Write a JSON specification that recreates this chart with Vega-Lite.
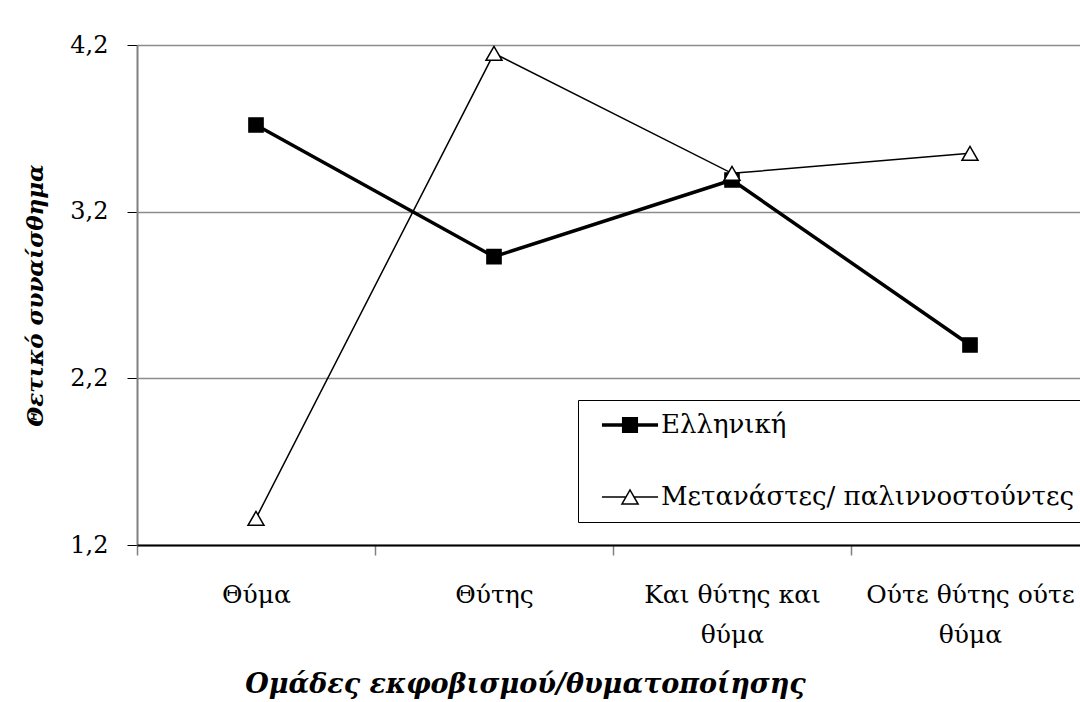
{
  "$schema": "https://vega.github.io/schema/vega-lite/v6.json",
  "width": 943,
  "height": 500,
  "autosize": {"type": "none"},
  "padding": {"left": 137, "top": 45, "right": 0, "bottom": 157},
  "background": "white",
  "config": {
    "view": {"stroke": null},
    "font": "DejaVu Serif",
    "axis": {"labelFont": "DejaVu Serif", "titleFont": "DejaVu Serif", "labelColor": "black", "titleColor": "black"}
  },
  "data": {
    "values": [
      {"group": "Θύμα", "series": "Ελληνική", "value": 3.72},
      {"group": "Θύτης", "series": "Ελληνική", "value": 2.93},
      {"group": "Και θύτης και θύμα", "series": "Ελληνική", "value": 3.39},
      {"group": "Ούτε θύτης ούτε θύμα", "series": "Ελληνική", "value": 2.40},
      {"group": "Θύμα", "series": "Μετανάστες/ παλιννοστούντες", "value": 1.36},
      {"group": "Θύτης", "series": "Μετανάστες/ παλιννοστούντες", "value": 4.15},
      {"group": "Και θύτης και θύμα", "series": "Μετανάστες/ παλιννοστούντες", "value": 3.43},
      {"group": "Ούτε θύτης ούτε θύμα", "series": "Μετανάστες/ παλιννοστούντες", "value": 3.55}
    ]
  },
  "encoding": {
    "x": {
      "field": "group",
      "type": "nominal",
      "sort": null,
      "scale": {"range": [0, 952], "paddingInner": 0, "paddingOuter": 0},
      "axis": {
        "title": "Ομάδες εκφοβισμού/θυματοποίησης",
        "titleFontSize": 27,
        "titleFontWeight": "bold",
        "titleFontStyle": "italic",
        "titleX": 388,
        "titleY": 147,
        "titleBaseline": "alphabetic",
        "titleAlign": "center",
        "labelAngle": 0,
        "labelFontSize": 25,
        "labelPadding": 27,
        "labelLineHeight": 40,
        "labelLimit": 500,
        "labelOverlap": false,
        "labelBound": false,
        "labelExpr": "datum.value == 'Και θύτης και θύμα' ? ['Και θύτης και', 'θύμα'] : datum.value == 'Ούτε θύτης ούτε θύμα' ? ['Ούτε θύτης ούτε', 'θύμα'] : datum.value",
        "tickBand": "extent",
        "tickSize": 10,
        "tickColor": "#808080",
        "tickWidth": 1.5,
        "domainColor": "black",
        "domainWidth": 2,
        "grid": false,
        "zindex": 1
      }
    },
    "y": {
      "field": "value",
      "type": "quantitative",
      "scale": {"domain": [1.2, 4.2], "nice": false, "zero": false},
      "axis": {
        "title": "Θετικό συναίσθημα",
        "titleFontSize": 23,
        "titleFontWeight": "bold",
        "titleFontStyle": "italic",
        "titleX": -95,
        "titleY": 250,
        "titleAngle": -90,
        "titleBaseline": "alphabetic",
        "titleAlign": "center",
        "values": [1.2, 2.2, 3.2, 4.2],
        "labelExpr": "replace(format(datum.value, '.1f'), '.', ',')",
        "labelFontSize": 24,
        "labelPadding": 19,
        "tickSize": 10,
        "tickColor": "black",
        "tickWidth": 1,
        "domainColor": "#808080",
        "domainWidth": 2,
        "grid": true,
        "gridColor": "#8c8c8c",
        "gridWidth": 1.5
      }
    }
  },
  "layer": [
    {
      "mark": {"type": "line", "clip": false},
      "encoding": {
        "color": {
          "field": "series",
          "type": "nominal",
          "scale": {"domain": ["Ελληνική", "Μετανάστες/ παλιννοστούντες"], "range": ["black", "black"]},
          "legend": {
            "title": null,
            "orient": "none",
            "legendX": 441,
            "legendY": 355,
            "direction": "vertical",
            "strokeColor": "black",
            "fillColor": "white",
            "padding": 12,
            "rowPadding": 45,
            "labelFont": "DejaVu Serif",
            "labelFontSize": 26,
            "labelColor": "black",
            "labelOffset": 18,
            "labelLimit": 700,
            "symbolSize": 900,
            "symbolOffset": 27,
            "encode": {
              "symbols": {
                "update": {
                  "shape": {"signal": "datum.value == 'Ελληνική' ? 'M-1.87,0H1.87M-0.42,-0.42H0.42V0.42H-0.42Z' : 'M-1.87,0H-0.27M0.27,0H1.87M-0.54,0.47L0,-0.47L0.54,0.47Z'"},
                  "fill": {"signal": "datum.value == 'Ελληνική' ? 'black' : 'white'"},
                  "stroke": {"value": "black"},
                  "strokeWidth": {"signal": "datum.value == 'Ελληνική' ? 3.5 : 1.5"},
                  "size": {"value": 900},
                  "opacity": {"value": 1},
                  "fillOpacity": {"value": 1}
                }
              }
            }
          }
        },
        "strokeWidth": {
          "field": "series",
          "type": "nominal",
          "scale": {"range": [3.5, 1.5]},
          "legend": null
        }
      }
    },
    {
      "mark": {"type": "point", "filled": false, "opacity": 1, "strokeWidth": 1.5, "stroke": "black", "clip": false},
      "encoding": {
        "shape": {
          "field": "series",
          "type": "nominal",
          "scale": {"range": ["square", "triangle-up"]},
          "legend": null
        },
        "fill": {
          "field": "series",
          "type": "nominal",
          "scale": {"range": ["black", "white"]},
          "legend": null
        },
        "size": {
          "field": "series",
          "type": "nominal",
          "scale": {"range": [200, 256]},
          "legend": null
        }
      }
    }
  ]
}
